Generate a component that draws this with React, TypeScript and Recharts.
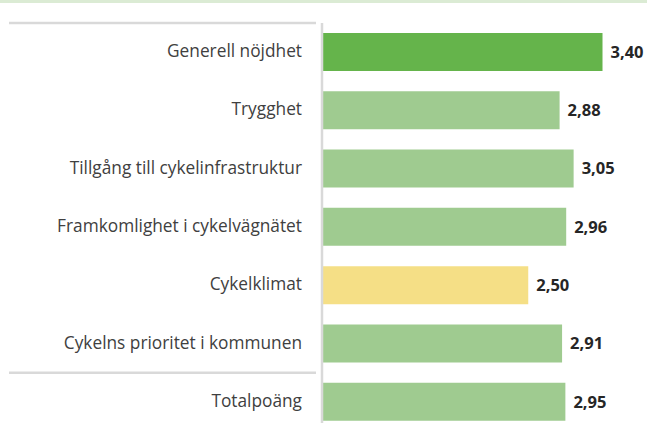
import { BarChart, Bar, XAxis, YAxis, Cell, LabelList } from "recharts";

const categories = [
  "Generell nöjdhet",
  "Trygghet",
  "Tillgång till cykelinfrastruktur",
  "Framkomlighet i cykelvägnätet",
  "Cykelklimat",
  "Cykelns prioritet i kommunen",
  "Totalpoäng",
];
const scores = [3.4, 2.88, 3.05, 2.96, 2.5, 2.91, 2.95];

const data = categories.map((name, i) => ({ name, score: scores[i] }));

const CHART_W = 652;
const CHART_H = 431;
const TOP = 23;
const AXIS_W = 322;
const BAND = (CHART_H - TOP) / categories.length;
const FONT = "'Open Sans', Lato, sans-serif";
const GRID = "#d9d9d9";

function barColor(name: string): string {
  if (name === "Generell nöjdhet") return "#65b44b";
  if (name === "Cykelklimat") return "#f5df86";
  return "#9fcb90";
}

const fmt = (v: number) => v.toFixed(2).replace(".", ",");

// y-axis label plus the grey separators above the first row and above the total
const CategoryTick = (props: any) => {
  const { x, y, payload, index } = props;
  const lineY = y - BAND / 2;
  return (
    <g>
      {(index === 0 || index === categories.length - 1) && (
        <line x1={9} x2={x + 2} y1={lineY} y2={lineY} stroke={GRID} strokeWidth={2.5} />
      )}
      <text x={x - 12} y={y} dy={5} textAnchor="end" fontSize={17.3} fill="#404040" fontFamily={FONT}>
        {payload.value}
      </text>
    </g>
  );
};

export default function App() {
  return (
    <div style={{ position: "fixed", top: 0, left: 0, width: 647, height: 423, overflow: "hidden", background: "#fff" }}>
      <div style={{ position: "absolute", top: 0, left: 0, width: 647, height: 3, background: "#dbebd4" }} />
      <BarChart
        width={CHART_W}
        height={CHART_H}
        data={data}
        layout="vertical"
        margin={{ top: TOP, right: 0, bottom: 0, left: 0 }}
      >
        <XAxis type="number" domain={[0, 4]} hide />
        <YAxis
          type="category"
          dataKey="name"
          width={AXIS_W}
          axisLine={{ stroke: GRID, strokeWidth: 2.5 }}
          tickLine={false}
          tick={<CategoryTick />}
          interval={0}
        />
        <Bar dataKey="score" barSize={38} isAnimationActive={false}>
          {data.map((d) => (
            <Cell key={d.name} fill={barColor(d.name)} />
          ))}
          <LabelList
            dataKey="score"
            position="right"
            offset={8}
            formatter={(v: any) => fmt(Number(v))}
            style={{ fontSize: 16.5, fontWeight: 700, fill: "#262626", fontFamily: FONT }}
          />
        </Bar>
      </BarChart>
    </div>
  );
}
